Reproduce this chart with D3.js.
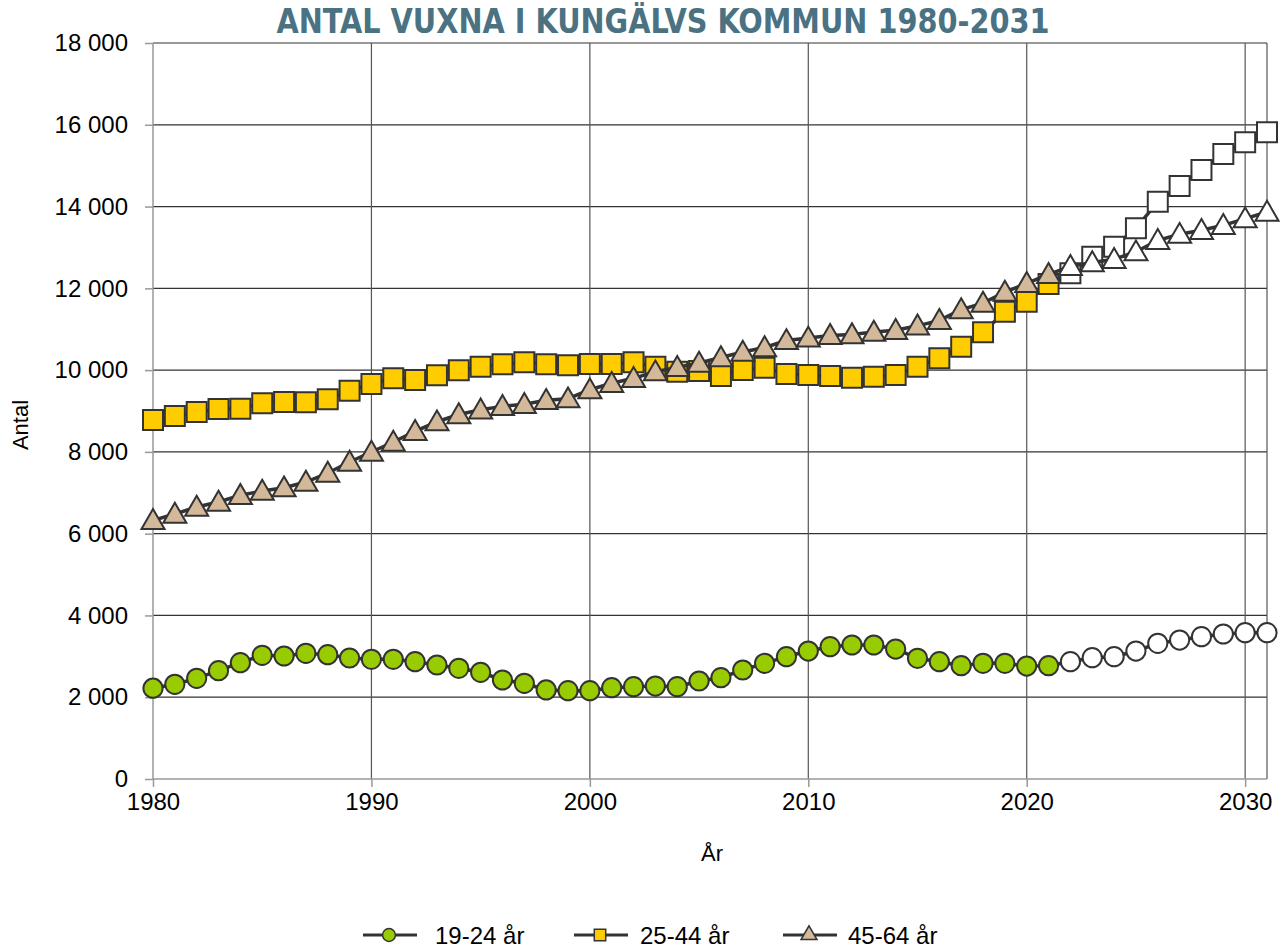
<!DOCTYPE html>
<html>
<head>
<meta charset="utf-8">
<script src="https://cdn.jsdelivr.net/npm/d3@7"></script>
<style>
  body { margin: 0; background: #fff; }
  text { font-family: "Liberation Sans", Arial, sans-serif; }
</style>
</head>
<body>
<div id="chart"></div>
<script>
const years = d3.range(1980, 2032);
const lastActual = 2021;

const v1924 = [2220, 2316, 2462, 2649, 2845, 3025, 3008, 3074, 3040, 2959,
  2927, 2927, 2869, 2788, 2707, 2609, 2421, 2340, 2177, 2160,
  2160, 2233, 2257, 2274, 2257, 2397, 2478, 2666, 2829, 2992,
  3130, 3236, 3277, 3277, 3179, 2951, 2869, 2771, 2829, 2829,
  2763, 2771, 2869, 2967, 2992, 3130, 3318, 3399, 3480, 3546,
  3578, 3578];

const v2544 = [8780, 8878, 8975, 9049, 9057, 9188, 9220, 9212, 9285, 9497,
  9660, 9799, 9758, 9873, 9995, 10083, 10142, 10190, 10142, 10117,
  10149, 10149, 10190, 10083, 9961, 9978, 9856, 10002, 10059, 9905,
  9880, 9856, 9814, 9839, 9880, 10083, 10288, 10572, 10924, 11428,
  11670, 12106, 12367, 12774, 13018, 13468, 14118, 14502, 14894, 15285,
  15571, 15815];

const v4564 = [6326, 6481, 6652, 6774, 6938, 7043, 7124, 7263, 7483, 7752,
  7997, 8242, 8503, 8738, 8914, 9031, 9113, 9165, 9263, 9301,
  9521, 9677, 9799, 9961, 10067, 10174, 10308, 10443, 10553, 10725,
  10787, 10849, 10870, 10932, 10973, 11083, 11217, 11478, 11640, 11910,
  12122, 12343, 12538, 12631, 12709, 12896, 13174, 13324, 13419, 13541,
  13703, 13867];

const seriesNames = ["19-24 år", "25-44 år", "45-64 år"];
const seriesColors = ["#99cc00", "#ffcc00", "#d4b89a"];
const seriesShapes = [d3.symbolCircle, d3.symbolSquare, d3.symbolTriangle];
const seriesValues = [v1924, v2544, v4564];

const yTicks = d3.range(0, 18001, 2000);
const xTicks = [1980, 1990, 2000, 2010, 2020, 2030];

const width = 1282, height = 952,
  margin = ({ top: 43, right: 15, bottom: 173, left: 153 });

const x = d3.scaleLinear()
  .domain([1980, 2031])
  .range([margin.left, width - margin.right]);

const y = d3.scaleLinear()
  .domain([0, 18000])
  .range([height - margin.bottom, margin.top]);

const svg = d3.select("#chart")
  .append("svg")
  .attr("width", width)
  .attr("height", height);

// gridlines
svg.append("g")
  .selectAll("line")
  .data(yTicks.filter(d => d > 0))
  .join("line")
  .attr("x1", x(1980)).attr("x2", x(2031))
  .attr("y1", d => y(d)).attr("y2", d => y(d))
  .attr("stroke", "#333").attr("stroke-width", 1.2);

svg.append("g")
  .selectAll("line")
  .data(xTicks.filter(d => d > 1980).concat([2031]))
  .join("line")
  .attr("x1", d => x(d)).attr("x2", d => x(d))
  .attr("y1", y(0)).attr("y2", y(18000))
  .attr("stroke", "#555").attr("stroke-width", 1.2);

// axes
const yAxis = svg.append("g")
  .attr("transform", `translate(${x(1980)},0)`)
  .call(d3.axisLeft(y).tickValues(yTicks).tickSize(8).tickPadding(17)
    .tickFormat(d => d3.format(",")(d).replace(",", " ")));

const xAxis = svg.append("g")
  .attr("transform", `translate(0,${y(0)})`)
  .call(d3.axisBottom(x).tickValues(xTicks).tickSize(8).tickPadding(6)
    .tickFormat(d3.format("d")).tickSizeOuter(0));

for (const ax of [yAxis, xAxis]) {
  ax.select(".domain").attr("stroke", "#999").attr("stroke-width", 1.5);
  ax.selectAll(".tick line").attr("stroke", "#999").attr("stroke-width", 1.5);
  ax.selectAll(".tick text").attr("fill", "#000").style("font-size", "24px")
    .style("font-family", "'Liberation Sans', Arial, sans-serif");
}
yAxis.select(".domain").attr("d", `M0,${y(0)}V${y(18000)}`);
xAxis.select(".domain").attr("d", `M${x(1980)},0H${x(2031)}`);

// series
const line = d3.line()
  .x((d, i) => x(years[i]))
  .y(d => y(d));

seriesValues.forEach((vals, s) => {
  const g = svg.append("g");
  g.append("path")
    .datum(vals)
    .attr("fill", "none")
    .attr("stroke", "#333")
    .attr("stroke-width", 3.5)
    .attr("d", line);

  const sym = d3.symbol().type(seriesShapes[s])
    .size(s === 0 ? 290 : s === 1 ? 400 : 230);

  g.selectAll("path.mark")
    .data(vals)
    .join("path")
    .attr("class", "mark")
    .attr("transform", (d, i) => `translate(${x(years[i])},${y(d) + (s === 2 ? 2 : 0)})`)
    .attr("d", sym)
    .attr("fill", (d, i) => years[i] > lastActual ? "#fff" : seriesColors[s])
    .attr("stroke", "#333")
    .attr("stroke-width", 2);
});

// title
svg.append("text")
  .attr("x", 663).attr("y", 33)
  .attr("text-anchor", "middle")
  .attr("fill", "#4a7282")
  .attr("textLength", 773)
  .attr("lengthAdjust", "spacingAndGlyphs")
  .style("font-family", "'Liberation Sans Narrow', 'DejaVu Sans Condensed', sans-serif")
  .style("font-weight", "bold")
  .style("font-size", "34px")
  .text("ANTAL VUXNA I KUNGÄLVS KOMMUN 1980-2031");

// axis titles
svg.append("text")
  .attr("x", 712).attr("y", 861)
  .attr("text-anchor", "middle")
  .style("font-size", "22px")
  .text("År");

svg.append("text")
  .attr("transform", "translate(28,425) rotate(-90)")
  .attr("text-anchor", "middle")
  .style("font-size", "22px")
  .text("Antal");

// legend
const legendX = [389, 600, 809];
const legend = svg.append("g");
seriesNames.forEach((name, s) => {
  const lg = legend.append("g").attr("transform", `translate(${legendX[s]},935)`);
  lg.append("line")
    .attr("x1", -26).attr("x2", 28)
    .attr("stroke", "#333").attr("stroke-width", 3);
  lg.append("path")
    .attr("d", d3.symbol().type(seriesShapes[s]).size(s === 2 ? 110 : 130))
    .attr("fill", seriesColors[s])
    .attr("stroke", "#333")
    .attr("stroke-width", 1.5);
  lg.append("text")
    .attr("x", 46 - (s === 2 ? 7 : s === 1 ? 6 : 0)).attr("y", 9)
    .style("font-size", "24px")
    .text(name);
});
</script>
</body>
</html>
